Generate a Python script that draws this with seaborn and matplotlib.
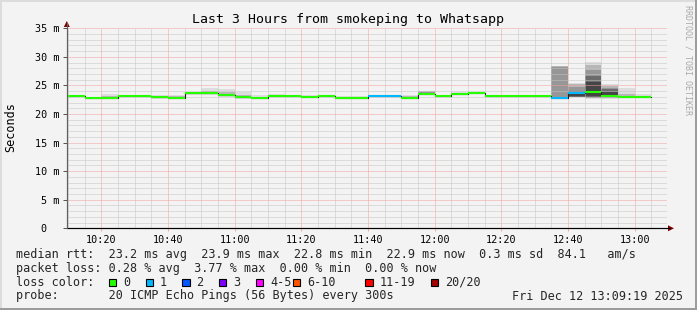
import numpy as np
import pandas as pd
import matplotlib
matplotlib.use("Agg")
import matplotlib.pyplot as plt
import seaborn as sns
from matplotlib.patches import Rectangle, Polygon
from matplotlib.lines import Line2D
from matplotlib.ticker import MultipleLocator, FixedLocator

# ---------------- data ----------------
seg_times = ["10:10", "10:15", "10:20", "10:25", "10:30", "10:35", "10:40", "10:45",
             "10:50", "10:55", "11:00", "11:05", "11:10", "11:15", "11:20", "11:25",
             "11:30", "11:35", "11:40", "11:45", "11:50", "11:55", "12:00", "12:05",
             "12:10", "12:15", "12:20", "12:25", "12:30", "12:35", "12:40", "12:45",
             "12:50", "12:55", "13:00"]
median_ms = [23.2, 22.85, 22.85, 23.2, 23.2, 22.95, 22.85, 23.6, 23.6, 23.25, 22.9, 22.85,
             23.15, 23.15, 22.95, 23.15, 22.85, 22.85, 23.1, 23.1, 22.85, 23.55, 23.15, 23.55,
             23.75, 23.2, 23.1, 23.1, 23.1, 22.85, 23.6, 23.9, 23.2, 22.9, 22.9]
loss_level = [0, 0, 0, 0, 0, 0, 0, 0, 0, 0, 0, 0, 0, 0, 0, 0, 0, 0, 1, 1, 0, 0, 0, 0,
              0, 0, 0, 0, 0, 1, 1, 0, 0, 0, 0]
N = np.nan
smoke1_lo = [23.0, 22.7, 22.7, 23.0, 23.0, 22.7, 22.55, 23.4, 23.4, 23.0, 22.7, 22.65,
             23.0, 23.0, 22.75, 23.0, 22.7, 22.6, 22.95, 22.95, 22.7, 23.4, 23.0, 23.4,
             23.55, 23.0, 22.95, 22.95, 22.95, 22.7, 22.95, 22.65, 22.7, 22.75, 22.75]
smoke1_hi = [23.35, 23.0, 23.45, 23.35, 23.3, 23.3, 23.3, 23.75, 24.6, 24.4, 23.9, 23.4,
             23.55, 23.3, 23.3, 23.3, 23.1, 23.1, 23.2, 23.2, 23.4, 24.05, 23.35, 23.85,
             23.85, 23.3, 23.2, 23.2, 23.35, 28.4, 25.45, 29.15, 25.2, 24.6, 23.45]
smoke2_lo = [N, N, 22.75, N, N, 22.8, 22.6, N, 23.45, 23.1, 22.75, N,
             N, N, N, N, N, N, N, N, 22.75, 23.45, N, 23.45,
             N, N, N, N, N, 22.7, 23.0, 22.75, 22.8, 22.8, N]
smoke2_hi = [N, N, 23.2, N, N, 23.1, 23.1, N, 24.0, 23.8, 23.4, N,
             N, N, N, N, N, N, N, N, 23.2, 23.95, N, 23.7,
             N, N, N, N, N, 28.35, 25.3, 28.5, 24.95, 23.5, N]
smoke3_lo = [N] * 21 + [23.5] + [N] * 7 + [22.75, 23.0, 22.85, 22.9, N, N]
smoke3_hi = [N] * 21 + [23.8] + [N] * 7 + [28.25, 24.7, 27.7, 24.6, N, N]
smoke4_lo = [N] * 30 + [23.05, 23.0, 23.0, N, N]
smoke4_hi = [N] * 30 + [24.0, 26.7, 24.45, N, N]
smoke5_lo = [N] * 30 + [23.1, 23.1, 23.05, N, N]
smoke5_hi = [N] * 30 + [23.5, 25.6, 23.9, N, N]
smoke_colors = ["#dddddd", "#b7b7b7", "#979797", "#6b6b6b", "#454545"]

loss_labels = ["0", "1", "2", "3", "4-5", "6-10", "11-19", "20/20"]
loss_colors = ["#26ff00", "#00b8ff", "#0059ff", "#7e00ff", "#ff00ff", "#ff5500", "#ff0000", "#a10000"]

y_ticks = [0, 5, 10, 15, 20, 25, 30, 35]
y_labels = ["0  ", "5 m", "10 m", "15 m", "20 m", "25 m", "30 m", "35 m"]
x_tick_labels = ["10:20", "10:40", "11:00", "11:20", "11:40", "12:00", "12:20", "12:40", "13:00"]

title = "Last 3 Hours from smokeping to Whatsapp"
legend_rtt = "median rtt:  23.2 ms avg  23.9 ms max  22.8 ms min  22.9 ms now  0.3 ms sd  84.1   am/s"
legend_loss = "packet loss: 0.28 % avg  3.77 % max  0.00 % min  0.00 % now"
probe_text = "probe:       20 ICMP Echo Pings (56 Bytes) every 300s"
date_text = "Fri Dec 12 13:09:19 2025"

# ---------------- helpers ----------------
def to_min(s):
    h, m = s.split(":")
    return (int(h) - 10) * 60 + int(m)

W, H = 697, 310
def fx(px):
    return px / W
def fy(py):
    return 1 - py / H

sns.set_theme(style="white")
plt.rcParams["font.family"] = ["DejaVu Sans Mono"]
BG = "#f3f3f3"

fig = plt.figure(figsize=(W / 100, H / 100), dpi=100, facecolor=BG)
ax = fig.add_axes([fx(67), fy(228.3), 600 / W, 200 / H])
ax.set_facecolor(BG)

starts = np.array([to_min(t) for t in seg_times], dtype=float)
width = 5.0

bands = [(smoke1_lo, smoke1_hi), (smoke2_lo, smoke2_hi), (smoke3_lo, smoke3_hi),
         (smoke4_lo, smoke4_hi), (smoke5_lo, smoke5_hi)]
for (lo, hi), c in zip(bands, smoke_colors):
    lo = np.array(lo, dtype=float)
    hi = np.array(hi, dtype=float)
    m = ~np.isnan(lo)
    ax.bar(starts[m], hi[m] - lo[m], bottom=lo[m], width=width, align="edge",
           color=c, linewidth=0, zorder=1)

# dark step line (vertical connectors)
df = pd.DataFrame({"t": np.append(starts, starts[-1] + width),
                   "ms": np.append(median_ms, median_ms[-1])})
sns.lineplot(data=df, x="t", y="ms", drawstyle="steps-post", color="#202020",
             linewidth=0.8, ax=ax, zorder=3)
# colored median segments
seg_cols = [loss_colors[l] for l in loss_level]
ax.hlines(median_ms, starts, starts + width, colors=seg_cols, linewidth=1.5, zorder=4,
          capstyle="butt")

ax.set_xlim(9.7, 189.7)
ax.set_ylim(0, 35)
ax.set_xlabel("")
ax.set_ylabel("")

ax.xaxis.set_major_locator(FixedLocator([to_min(t) for t in x_tick_labels]))
ax.xaxis.set_minor_locator(MultipleLocator(5))
ax.yaxis.set_major_locator(FixedLocator(y_ticks))
ax.yaxis.set_minor_locator(MultipleLocator(1))
ax.set_xticklabels(x_tick_labels)
ax.set_yticklabels(y_labels)

ax.set_axisbelow(False)
ax.grid(which="minor", color="#c4c4c4", linestyle=(0, (1, 1)), linewidth=0.72, zorder=2)
ax.grid(which="major", color="#f2a0a0", linestyle=(0, (1, 1)), linewidth=0.72, zorder=2)

ax.tick_params(axis="x", which="major", length=2, width=0.72, color="#f4a8a8",
               pad=3, labelsize=7.3, labelcolor="#000000", direction="out", bottom=True)
ax.tick_params(axis="y", which="major", length=3, width=0.72, color="#555555",
               pad=2.2, labelsize=7.3, labelcolor="#000000", direction="out", left=True)
ax.tick_params(which="minor", length=0)

for s in ["top", "right"]:
    ax.spines[s].set_visible(False)
ax.spines["left"].set_color("#606060")
ax.spines["left"].set_linewidth(0.8)
ax.spines["bottom"].set_color("#000000")
ax.spines["bottom"].set_linewidth(0.8)

# axis extensions and arrows
fig.add_artist(Line2D([fx(67), fx(670)], [fy(228.3), fy(228.3)], color="#000000", lw=0.8))
fig.add_artist(Line2D([fx(66.8), fx(66.8)], [fy(228.3), fy(23)], color="#606060", lw=0.8))
fig.add_artist(Polygon([[fx(668), fy(225.3)], [fx(674), fy(228.3)], [fx(668), fy(231.3)]],
                       closed=True, color="#800000", lw=0))
fig.add_artist(Polygon([[fx(63.8), fy(27)], [fx(66.8), fy(21)], [fx(69.8), fy(27)]],
                       closed=True, color="#800000", lw=0))

# titles
fig.text(fx(348.5), fy(19), title, ha="center", va="center", fontsize=9.5, color="#000000")
fig.text(fx(11), fy(127), "Seconds", rotation=90, ha="center", va="center", fontsize=8.5,
         color="#000000")
fig.text(fx(688), fy(60), "RRDTOOL / TOBI OETIKER", rotation=270, ha="center", va="center",
         fontsize=6, color="#aaaaaa")

# legend
fs = 8.5
fig.text(fx(16), fy(254.3), legend_rtt, ha="left", va="center", fontsize=fs)
fig.text(fx(16), fy(268.3), legend_loss, ha="left", va="center", fontsize=fs)
fig.text(fx(16), fy(282.3), "loss color:", ha="left", va="center", fontsize=fs)
box_x = [108.7, 145.7, 182.3, 219.0, 256.0, 292.7, 365.3, 430.7]
for bx, lab, col in zip(box_x, loss_labels, loss_colors):
    fig.add_artist(Rectangle((fx(bx), fy(286)), 7.3 / W, 7.3 / H, facecolor=col,
                             edgecolor="#000000", linewidth=0.8))
    fig.text(fx(bx + 14.3), fy(282.3), lab, ha="left", va="center", fontsize=fs)
fig.text(fx(16), fy(296), probe_text, ha="left", va="center", fontsize=fs)
fig.text(fx(683), fy(296), date_text, ha="right", va="center", fontsize=fs)

# 3D border
fig.add_artist(Rectangle((0, fy(2)), 1, 2 / H, facecolor="#dcdcdc", lw=0))
fig.add_artist(Rectangle((0, 0), 2 / W, 1, facecolor="#dcdcdc", lw=0))
fig.add_artist(Rectangle((0, 0), 1, 2.5 / H, facecolor="#9c9c9c", lw=0))
fig.add_artist(Rectangle((1 - 2.5 / W, 0), 2.5 / W, 1, facecolor="#9c9c9c", lw=0))

fig.savefig("out.png", dpi=100, facecolor=BG)
